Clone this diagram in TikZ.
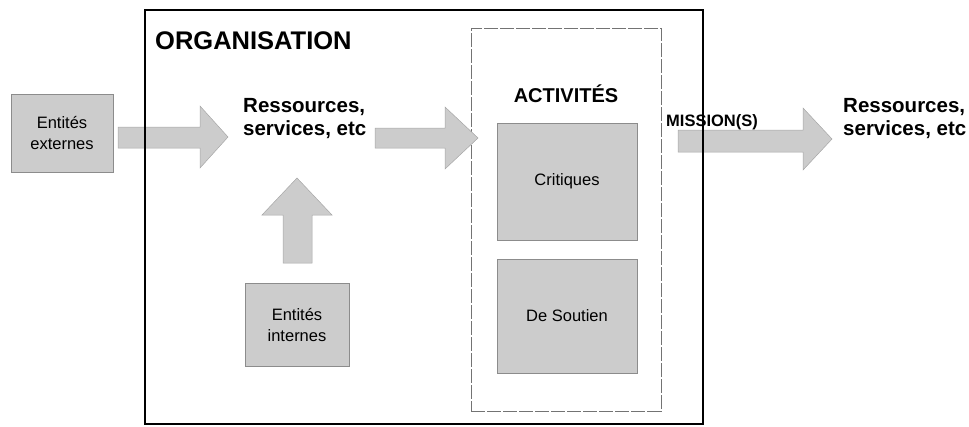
\documentclass[tikz,border=0pt]{standalone}
\usepackage{fontspec}
\setmainfont{Liberation Sans}
\begin{document}
\begin{tikzpicture}[x=1pt,y=-1pt,
  greybox/.style={draw=black!45, line width=0.6pt, fill=black!20, inner sep=0pt,
    align=center, font=\fontsize{16.5}{21}\selectfont},
  blockarrow/.style={draw=black!35, line width=0.5pt, fill=black!20},
  bigtitle/.style={font=\fontsize{25.5}{28}\selectfont\bfseries, inner sep=0pt},
  boldlabel/.style={font=\fontsize{20.5}{23}\selectfont\bfseries, inner sep=0pt, align=left},
  midtitle/.style={font=\fontsize{20}{24}\selectfont\bfseries, inner sep=0pt},
  smalltitle/.style={font=\fontsize{16.5}{20}\selectfont\bfseries, inner sep=0pt}]
\useasboundingbox (0,0) rectangle (969,426);
% activities frame
\node[draw=black!55, line width=0.7pt, dash pattern=on 14pt off 2pt, minimum width=190pt, minimum height=383pt, inner sep=0pt] (act) at (566,219.5) {};
% block arrows
\draw[blockarrow] (118,127) -- (200,127) -- (200,106) -- (228,137) -- (200,168) -- (200,148) -- (118,148) -- cycle;
\draw[blockarrow] (375,128) -- (445,128) -- (445,107) -- (478,138) -- (445,169) -- (445,148) -- (375,148) -- cycle;
\draw[blockarrow] (678,130) -- (803,130) -- (803,108) -- (832,139) -- (803,170) -- (803,152) -- (678,152) -- cycle;
\draw[blockarrow] (283,263) -- (283,215) -- (262,215) -- (297,178) -- (332,215) -- (312,215) -- (312,263) -- cycle;
% organisation frame
\node[draw=black, line width=2.6pt, minimum width=558pt, minimum height=414pt, inner sep=0pt] (org) at (424,217) {};
% boxes
\node[greybox, minimum width=102pt, minimum height=78pt] (ext) at (62,133) {Entités\\externes};
\node[greybox, minimum width=104pt, minimum height=83pt] (int) at (297,324.5) {Entités\\internes};
\node[greybox, minimum width=140pt, minimum height=117pt] (crit) at (567,181.5) {Critiques};
\node[greybox, minimum width=140pt, minimum height=114pt] (sout) at (567,316) {De Soutien};
% texts
\node[bigtitle, anchor=base west] (orgtitle) at (155,49) {ORGANISATION};
\node[midtitle, anchor=base] (acttitle) at (566,102) {ACTIVITÉS};
\node[smalltitle, anchor=base west] (mission) at (666,126) {MISSION(S)};
\node[boldlabel, anchor=west] (resin) at (243,119) {Ressources,\\services, etc};
\node[boldlabel, anchor=west] (resout) at (843,119) {Ressources,\\services, etc};
\end{tikzpicture}
\end{document}
